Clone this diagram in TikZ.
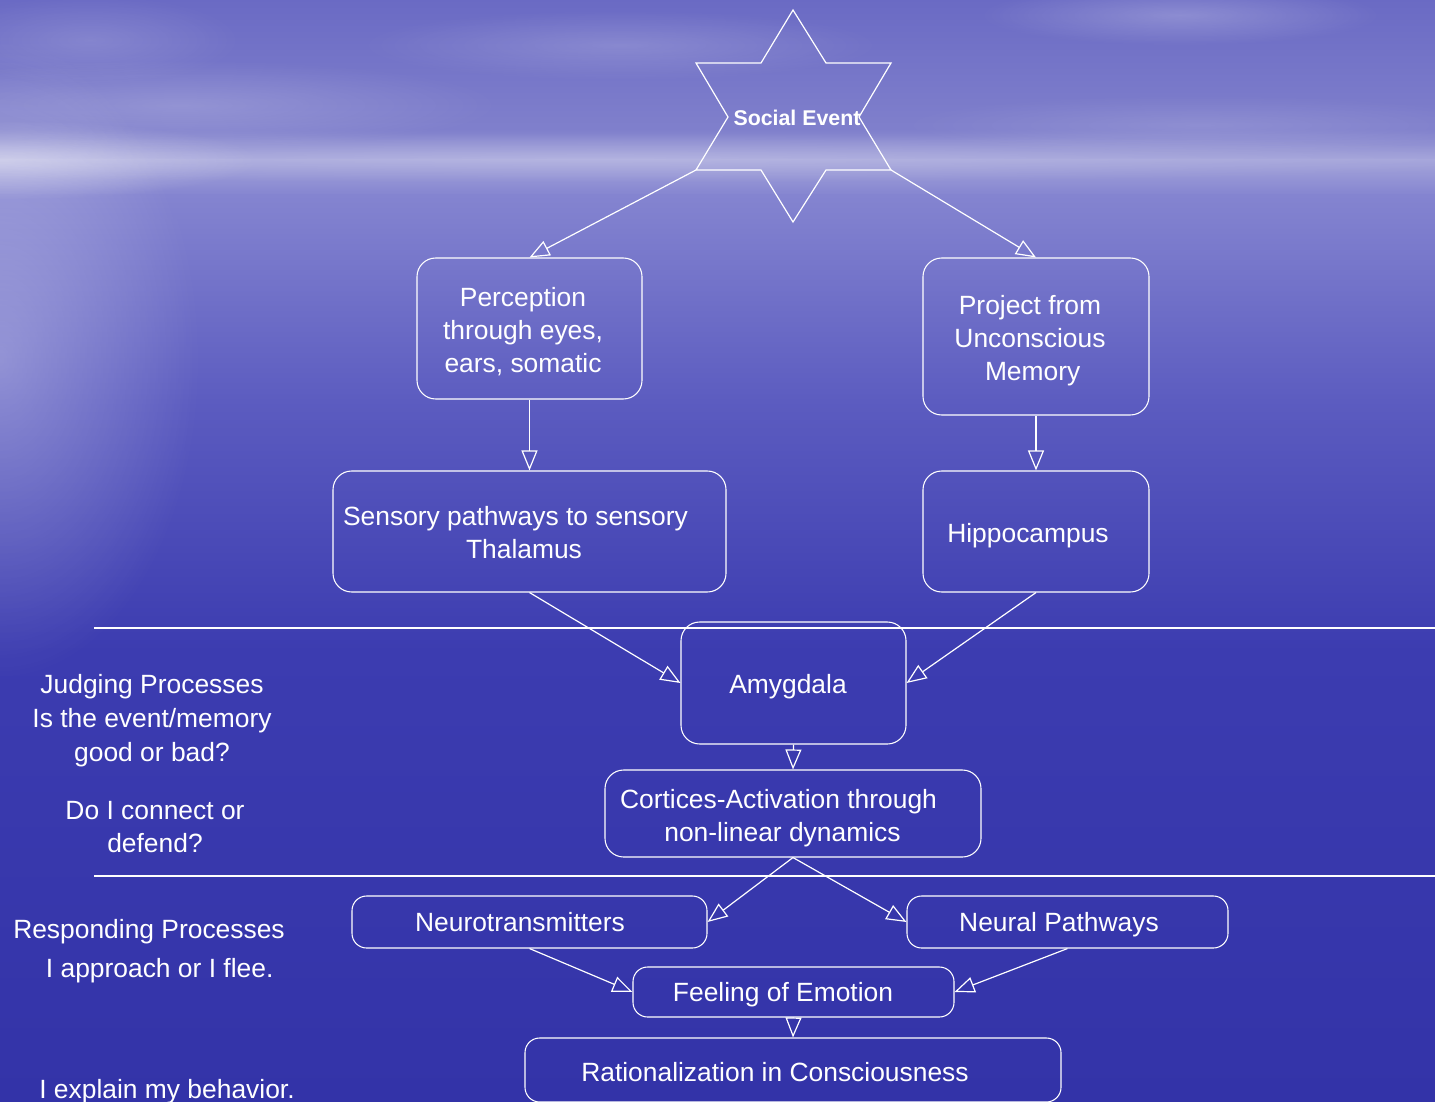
\documentclass[tikz,border=0pt]{standalone}
\usepackage{fontspec}
\setmainfont{Liberation Sans}
\usetikzlibrary{arrows.meta,fadings}
\tikzfading[name=myglow, inner color=transparent!0, outer color=transparent!100]
\definecolor{bgA}{HTML}{6A6AC4}
\definecolor{bgB}{HTML}{8080CC}
\definecolor{bgC}{HTML}{A4A4DA}
\definecolor{bgD}{HTML}{8484D0}
\definecolor{bgE}{HTML}{5C5CC0}
\definecolor{bgF}{HTML}{3C3CB0}
\definecolor{bgG}{HTML}{3333A8}
\begin{document}
\begin{tikzpicture}[x=0.75pt,y=-0.75pt,
  box/.style={draw=white, line width=0.8pt, rounded corners=14pt, inner sep=0pt},
  sbox/.style={box, rounded corners=11pt},
  lbl/.style={text=white, font=\fontsize{19.8}{24.75}\selectfont, align=center, inner sep=0pt,
    execute at begin node=\strut, execute at end node=\strut, yshift=-2.2pt},
  arr/.style={draw=white, line width=0.9pt, -{Triangle[open, length=15pt, width=12pt]}},
  sepline/.style={draw=white, line width=0.9pt}]
\useasboundingbox (0,0) rectangle (1435,1102);
\begin{scope}
\clip (0,0) rectangle (1435,1102);
% background
\shade[top color=bgA, bottom color=bgB] (0,-1) rectangle (1435,131);
\shade[top color=bgB, bottom color=bgC] (0,130) rectangle (1435,161);
\shade[top color=bgC, bottom color=bgD] (0,160) rectangle (1435,196);
\shade[top color=bgD, bottom color=bgE] (0,195) rectangle (1435,401);
\shade[top color=bgE, bottom color=bgF] (0,400) rectangle (1435,651);
\shade[top color=bgF, bottom color=bgG] (0,650) rectangle (1435,1103);
% clouds
\fill[white, opacity=0.18, path fading=myglow] (180,105) ellipse (320 and 45);
\fill[white, opacity=0.16, path fading=myglow] (620,45) ellipse (260 and 35);
\fill[white, opacity=0.22, path fading=myglow] (1180,15) ellipse (200 and 30);
\fill[white, opacity=0.12, path fading=myglow] (1200,125) ellipse (300 and 30);
\fill[white, opacity=0.14, path fading=myglow] (90,40) ellipse (150 and 45);
\fill[white, opacity=0.18, path fading=myglow] (600,158) ellipse (1000 and 25);
% left light
\fill[white, opacity=0.35, path fading=myglow] (0,160) ellipse (260 and 40);
\fill[white, opacity=0.30, path fading=myglow] (0,360) ellipse (200 and 320);
\end{scope}

% separators
\draw[sepline] (94,628) -- (1435,628);
\draw[sepline] (94,876) -- (1435,876);

% star
\draw[white, line width=0.9pt, line join=miter]
  (793,10) -- (826,63) -- (891,63) -- (859,117) -- (891,170) -- (826,170) -- (793,222)
  -- (761,170) -- (696,170) -- (728,117) -- (696,63) -- (761,63) -- cycle;
\node[text=white, font=\bfseries\fontsize{16}{19}\selectfont, inner sep=0pt] (se) at (797,118) {Social Event};
\coordinate (sl) at (696,170);
\coordinate (sr) at (891,170);

% boxes
\node[box, minimum width=168.75pt, minimum height=105.75pt] (per) at (529.5,328.5) {};
\node[box, minimum width=169.5pt, minimum height=117.75pt] (prj) at (1036,336.5) {};
\node[box, minimum width=294.75pt, minimum height=90.75pt] (sen) at (529.5,531.5) {};
\node[box, minimum width=169.5pt, minimum height=90.75pt] (hip) at (1036,531.5) {};
\node[box, minimum width=168.75pt, minimum height=91.5pt] (amy) at (793.5,683) {};
\node[box, minimum width=282pt, minimum height=65.25pt] (cor) at (793,813.5) {};
\node[sbox, minimum width=266.25pt, minimum height=39pt] (neu) at (529.5,922) {};
\node[sbox, minimum width=240.75pt, minimum height=39pt] (nep) at (1067.5,922) {};
\node[sbox, minimum width=240.75pt, minimum height=37.5pt] (fee) at (793.5,992) {};
\node[sbox, minimum width=402pt, minimum height=48pt] (rat) at (793,1070) {};

% box texts
\node[lbl] (tper) at (523,332) {Perception\\through eyes,\\ears, somatic};
\node[lbl] (tprj) at (1030,340) {Project from\\Unconscious\\\hspace*{4pt}Memory};
\node[lbl] (tsen) at (515.5,534) {Sensory pathways to sensory\\\hspace*{12.75pt}Thalamus};
\node[lbl] (thip) at (1028,533) {Hippocampus};
\node[lbl] (tamy) at (788,684) {Amygdala};
\node[lbl] (tcor) at (778.5,817) {Cortices-Activation through\\\hspace*{6pt}non-linear dynamics};
\node[lbl] (tneu) at (520,922) {Neurotransmitters};
\node[lbl] (tnep) at (1059,922) {Neural Pathways};
\node[lbl] (tfee) at (783,992) {Feeling of Emotion};
\node[lbl] (trat) at (775,1072) {Rationalization in Consciousness};

% left texts
\node[lbl, font=\fontsize{19.8}{25.5}\selectfont] (jud) at (152,720.5) {Judging Processes\\Is the event/memory\\good or bad?};
\node[lbl] (con) at (155,829) {Do I connect or\\defend?};
\node[lbl, font=\fontsize{19.8}{29.25}\selectfont] (res) at (149,951) {Responding Processes\\\hspace*{16pt}I approach or I flee.};
\node[lbl] (exp) at (167,1089) {I explain my behavior.};

% connectors
\draw[arr] (sl) -- (per.north);
\draw[arr] (sr) -- (prj.north);
\draw[arr] (per.south) -- (sen.north);
\draw[arr] (prj.south) -- (hip.north);
\draw[arr] (sen.south) -- (amy.west);
\draw[arr] (hip.south) -- (amy.east);
\draw[arr] (amy.south) -- (cor.north);
\draw[arr] (cor.south) -- (neu.east);
\draw[arr] (cor.south) -- (nep.west);
\draw[arr] (neu.south) -- (fee.west);
\draw[arr] (nep.south) -- (fee.east);
\draw[arr] (fee.south) -- (rat.north);
\end{tikzpicture}
\end{document}
